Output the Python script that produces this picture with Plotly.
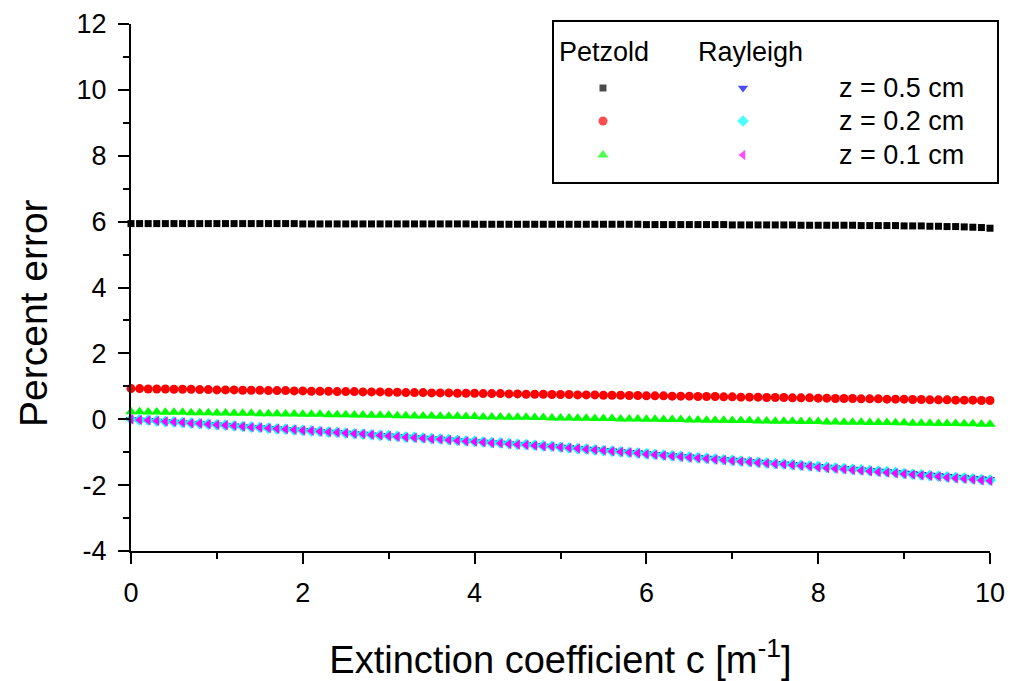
import plotly.graph_objects as go

# Extinction coefficient c [m^-1]
c = [0.0, 0.1, 0.2, 0.3, 0.4, 0.5, 0.6, 0.7, 0.8, 0.9,
     1.0, 1.1, 1.2, 1.3, 1.4, 1.5, 1.6, 1.7, 1.8, 1.9,
     2.0, 2.1, 2.2, 2.3, 2.4, 2.5, 2.6, 2.7, 2.8, 2.9,
     3.0, 3.1, 3.2, 3.3, 3.4, 3.5, 3.6, 3.7, 3.8, 3.9,
     4.0, 4.1, 4.2, 4.3, 4.4, 4.5, 4.6, 4.7, 4.8, 4.9,
     5.0, 5.1, 5.2, 5.3, 5.4, 5.5, 5.6, 5.7, 5.8, 5.9,
     6.0, 6.1, 6.2, 6.3, 6.4, 6.5, 6.6, 6.7, 6.8, 6.9,
     7.0, 7.1, 7.2, 7.3, 7.4, 7.5, 7.6, 7.7, 7.8, 7.9,
     8.0, 8.1, 8.2, 8.3, 8.4, 8.5, 8.6, 8.7, 8.8, 8.9,
     9.0, 9.1, 9.2, 9.3, 9.4, 9.5, 9.6, 9.7, 9.8, 9.9,
     10.0]

# Petzold, z = 0.5 cm
petzold_05 = [5.94, 5.94, 5.94, 5.94, 5.94, 5.94, 5.94, 5.94, 5.94, 5.94,
              5.94, 5.94, 5.94, 5.94, 5.94, 5.94, 5.94, 5.94, 5.94, 5.94,
              5.93, 5.93, 5.93, 5.93, 5.93, 5.93, 5.93, 5.93, 5.93, 5.93,
              5.93, 5.93, 5.93, 5.93, 5.93, 5.93, 5.93, 5.93, 5.93, 5.93,
              5.92, 5.92, 5.92, 5.92, 5.92, 5.92, 5.92, 5.92, 5.92, 5.92,
              5.92, 5.92, 5.92, 5.92, 5.92, 5.92, 5.92, 5.92, 5.92, 5.92,
              5.91, 5.91, 5.91, 5.91, 5.91, 5.91, 5.91, 5.91, 5.91, 5.91,
              5.90, 5.90, 5.90, 5.90, 5.90, 5.90, 5.90, 5.90, 5.89, 5.89,
              5.89, 5.89, 5.89, 5.89, 5.89, 5.88, 5.88, 5.88, 5.88, 5.88,
              5.87, 5.87, 5.87, 5.86, 5.86, 5.85, 5.85, 5.84, 5.83, 5.82,
              5.80]

# Petzold, z = 0.2 cm
petzold_02 = [0.93, 0.93, 0.92, 0.92, 0.92, 0.91, 0.91, 0.91, 0.90, 0.90,
              0.89, 0.89, 0.89, 0.88, 0.88, 0.88, 0.87, 0.87, 0.87, 0.86,
              0.86, 0.85, 0.85, 0.85, 0.84, 0.84, 0.84, 0.83, 0.83, 0.83,
              0.82, 0.82, 0.81, 0.81, 0.81, 0.80, 0.80, 0.80, 0.79, 0.79,
              0.79, 0.78, 0.78, 0.78, 0.77, 0.77, 0.76, 0.76, 0.76, 0.75,
              0.75, 0.75, 0.74, 0.74, 0.74, 0.73, 0.73, 0.73, 0.72, 0.72,
              0.71, 0.71, 0.71, 0.70, 0.70, 0.70, 0.69, 0.69, 0.69, 0.68,
              0.68, 0.67, 0.67, 0.67, 0.66, 0.66, 0.66, 0.65, 0.65, 0.65,
              0.64, 0.64, 0.63, 0.63, 0.63, 0.62, 0.62, 0.62, 0.61, 0.61,
              0.61, 0.60, 0.60, 0.59, 0.59, 0.59, 0.58, 0.58, 0.58, 0.57,
              0.57]

# Petzold, z = 0.1 cm
petzold_01 = [0.23, 0.23, 0.22, 0.22, 0.21, 0.21, 0.21, 0.20, 0.20, 0.20,
              0.19, 0.19, 0.18, 0.18, 0.18, 0.17, 0.17, 0.17, 0.16, 0.16,
              0.15, 0.15, 0.15, 0.14, 0.14, 0.14, 0.13, 0.13, 0.12, 0.12,
              0.12, 0.11, 0.11, 0.10, 0.10, 0.10, 0.09, 0.09, 0.09, 0.08,
              0.08, 0.07, 0.07, 0.07, 0.06, 0.06, 0.06, 0.05, 0.05, 0.04,
              0.04, 0.04, 0.03, 0.03, 0.02, 0.02, 0.02, 0.01, 0.01, 0.01,
              0.00, 0.00, -0.01, -0.01, -0.01, -0.02, -0.02, -0.03, -0.03, -0.03,
              -0.04, -0.04, -0.04, -0.05, -0.05, -0.06, -0.06, -0.06, -0.07, -0.07,
              -0.07, -0.08, -0.08, -0.09, -0.09, -0.09, -0.10, -0.10, -0.10, -0.11,
              -0.11, -0.12, -0.12, -0.12, -0.13, -0.13, -0.13, -0.14, -0.14, -0.15,
              -0.15]

# Rayleigh, z = 0.5 cm
rayleigh_05 = [0.00, -0.02, -0.03, -0.05, -0.07, -0.08, -0.10, -0.12, -0.13, -0.15,
               -0.17, -0.18, -0.20, -0.22, -0.24, -0.25, -0.27, -0.29, -0.30, -0.32,
               -0.34, -0.35, -0.37, -0.39, -0.40, -0.42, -0.44, -0.45, -0.47, -0.49,
               -0.50, -0.52, -0.54, -0.55, -0.57, -0.59, -0.60, -0.62, -0.64, -0.66,
               -0.67, -0.69, -0.71, -0.72, -0.74, -0.76, -0.77, -0.79, -0.81, -0.82,
               -0.84, -0.86, -0.88, -0.90, -0.92, -0.94, -0.96, -0.98, -1.00, -1.02,
               -1.04, -1.06, -1.08, -1.10, -1.12, -1.14, -1.16, -1.18, -1.20, -1.22,
               -1.24, -1.26, -1.28, -1.30, -1.32, -1.34, -1.35, -1.37, -1.39, -1.41,
               -1.43, -1.45, -1.47, -1.49, -1.51, -1.53, -1.55, -1.57, -1.59, -1.61,
               -1.63, -1.65, -1.67, -1.69, -1.71, -1.73, -1.75, -1.77, -1.79, -1.81,
               -1.83]

# Rayleigh, z = 0.2 cm
rayleigh_02 = [0.00, -0.02, -0.03, -0.05, -0.07, -0.08, -0.10, -0.12, -0.13, -0.15,
               -0.17, -0.18, -0.20, -0.22, -0.24, -0.25, -0.27, -0.29, -0.30, -0.32,
               -0.34, -0.35, -0.37, -0.39, -0.40, -0.42, -0.44, -0.45, -0.47, -0.49,
               -0.50, -0.52, -0.54, -0.55, -0.57, -0.59, -0.60, -0.62, -0.64, -0.66,
               -0.67, -0.69, -0.71, -0.72, -0.74, -0.76, -0.77, -0.79, -0.81, -0.82,
               -0.85, -0.87, -0.89, -0.91, -0.93, -0.95, -0.97, -0.99, -1.01, -1.03,
               -1.05, -1.07, -1.09, -1.11, -1.13, -1.15, -1.17, -1.19, -1.21, -1.23,
               -1.25, -1.27, -1.29, -1.31, -1.33, -1.35, -1.36, -1.38, -1.40, -1.42,
               -1.44, -1.46, -1.48, -1.50, -1.52, -1.54, -1.56, -1.58, -1.60, -1.62,
               -1.65, -1.67, -1.69, -1.71, -1.73, -1.75, -1.77, -1.79, -1.81, -1.83,
               -1.85]

# Rayleigh, z = 0.1 cm
rayleigh_01 = [0.00, -0.02, -0.03, -0.05, -0.07, -0.08, -0.10, -0.12, -0.13, -0.15,
               -0.17, -0.18, -0.20, -0.22, -0.24, -0.25, -0.27, -0.29, -0.30, -0.32,
               -0.34, -0.35, -0.37, -0.39, -0.40, -0.42, -0.44, -0.45, -0.47, -0.49,
               -0.51, -0.53, -0.55, -0.56, -0.58, -0.60, -0.61, -0.63, -0.65, -0.67,
               -0.68, -0.70, -0.72, -0.73, -0.75, -0.77, -0.78, -0.80, -0.82, -0.83,
               -0.85, -0.87, -0.89, -0.91, -0.93, -0.95, -0.97, -0.99, -1.01, -1.03,
               -1.06, -1.08, -1.10, -1.12, -1.14, -1.16, -1.18, -1.20, -1.22, -1.24,
               -1.26, -1.28, -1.30, -1.32, -1.34, -1.36, -1.37, -1.39, -1.41, -1.43,
               -1.46, -1.48, -1.50, -1.52, -1.54, -1.56, -1.58, -1.60, -1.62, -1.64,
               -1.66, -1.68, -1.70, -1.72, -1.74, -1.77, -1.79, -1.81, -1.83, -1.85,
               -1.87]

x_ticks = [0, 2, 4, 6, 8, 10]
x_tick_text = ["0", "2", "4", "6", "8", "10"]
y_ticks = [-4, -2, 0, 2, 4, 6, 8, 10, 12]
y_tick_text = ["-4", "-2", "0", "2", "4", "6", "8", "10", "12"]

legend_headers = ["Petzold", "Rayleigh"]
legend_labels = ["z = 0.5 cm", "z = 0.2 cm", "z = 0.1 cm"]

series = [
    (petzold_05, "square", "#000000", 7),
    (petzold_02, "circle", "#FF0000", 9),
    (petzold_01, "triangle-up", "#00FF00", 10),
    (rayleigh_05, "triangle-down", "#0000FF", 9),
    (rayleigh_02, "diamond", "#00FFFF", 9),
    (rayleigh_01, "triangle-left", "#FF00FF", 9),
]

FONT = "Liberation Sans, Arial, sans-serif"

# plot-area pixel geometry (for legend placement)
L, R, T, B = 131, 990, 24, 551
W, H = 1010, 681


def px(xp):
    return (xp - L) / (R - L)


def py(yp):
    return (B - yp) / (B - T)


fig = go.Figure()

for vals, sym, col, size in series:
    fig.add_trace(go.Scatter(
        x=c, y=vals, mode="markers",
        marker=dict(symbol=sym, color=col, size=size, line=dict(width=0)),
        cliponaxis=False, showlegend=False, hoverinfo="skip",
    ))

# legend symbols on an invisible pixel-scaled overlay axis pair
leg_x = [603, 603, 603, 743, 743, 743]
leg_y = [88, 121, 155, 88, 121, 155]
fig.add_trace(go.Scatter(
    x=leg_x, y=leg_y, mode="markers", xaxis="x2", yaxis="y2",
    marker=dict(symbol=[s[1] for s in series], color=[s[2] for s in series],
                size=[s[3] for s in series], line=dict(width=0)),
    cliponaxis=False, showlegend=False, hoverinfo="skip",
))

annotations = []
for txt, xp in zip(legend_headers, [557, 696]):
    annotations.append(dict(text=txt, x=px(xp), y=py(52), xref="paper", yref="paper",
                            xanchor="left", yanchor="middle", showarrow=False,
                            font=dict(family=FONT, size=27, color="black")))
for txt, yp in zip(legend_labels, [88, 121, 155]):
    annotations.append(dict(text=txt, x=px(837), y=py(yp), xref="paper", yref="paper",
                            xanchor="left", yanchor="middle", showarrow=False,
                            font=dict(family=FONT, size=27, color="black")))
# y-axis title (placed like the reference, slightly below the plot's centre)
annotations.append(dict(text="Percent error", x=px(33), y=py(313), xref="paper",
                        yref="paper", xanchor="center", yanchor="middle",
                        textangle=-90, showarrow=False,
                        font=dict(family=FONT, size=39, color="black")))

fig.update_layout(
    width=W, height=H,
    margin=dict(l=L, r=W - R, t=T, b=H - B, autoexpand=False),
    paper_bgcolor="white", plot_bgcolor="white",
    font=dict(family=FONT, color="black"),
    showlegend=False,
    annotations=annotations,
    shapes=[dict(type="rect", xref="paper", yref="paper",
                 x0=px(553), x1=px(998), y0=py(21), y1=py(183),
                 line=dict(color="black", width=2), fillcolor="rgba(0,0,0,0)")],
    xaxis=dict(
        range=[0, 10], tickmode="array", tickvals=x_ticks, ticktext=x_tick_text,
        ticks="outside", ticklen=11, tickwidth=2, tickcolor="black",
        minor=dict(tickvals=[1, 3, 5, 7, 9], ticks="outside", ticklen=6,
                   tickwidth=2, tickcolor="black"),
        showline=True, linecolor="black", linewidth=2, mirror=False,
        showgrid=False, zeroline=False, automargin=False,
        tickfont=dict(family=FONT, size=27),
        ticklabelstandoff=6,
        title=dict(text="Extinction coefficient c [m<sup>-1</sup>]",
                   font=dict(family=FONT, size=38), standoff=40),
    ),
    yaxis=dict(
        range=[-4, 12], tickmode="array", tickvals=y_ticks, ticktext=y_tick_text,
        ticks="outside", ticklen=11, tickwidth=2, tickcolor="black",
        minor=dict(tickvals=[-3, -1, 1, 3, 5, 7, 9, 11], ticks="outside", ticklen=6,
                   tickwidth=2, tickcolor="black"),
        showline=True, linecolor="black", linewidth=2, mirror=False,
        showgrid=False, zeroline=False, automargin=False,
        tickfont=dict(family=FONT, size=27),
        ticklabelstandoff=6,
    ),
    xaxis2=dict(overlaying="x", range=[L, R], anchor="y2", visible=False,
                fixedrange=True, automargin=False),
    yaxis2=dict(overlaying="y", range=[B, T], anchor="x2", visible=False,
                fixedrange=True, automargin=False),
)

fig.write_html("out.html")
